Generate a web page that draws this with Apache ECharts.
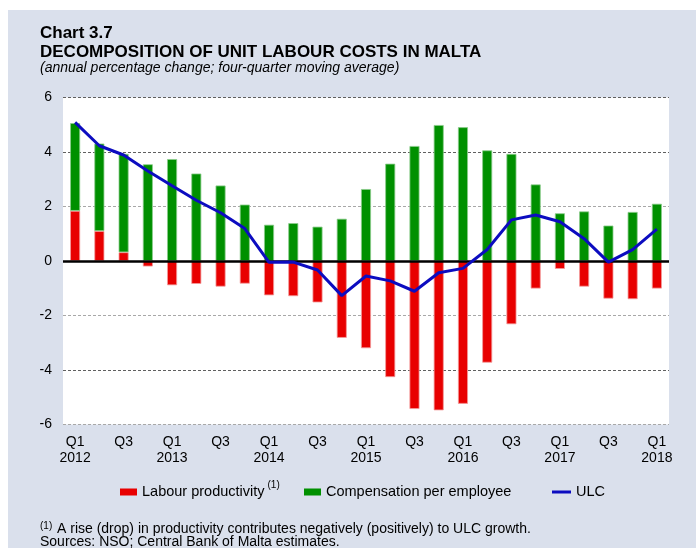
<!DOCTYPE html>
<html>
<head>
<meta charset="utf-8">
<script src="https://cdn.jsdelivr.net/npm/echarts@6/dist/echarts.min.js"></script>
<style>
  html, body { margin: 0; padding: 0; background: #fff; }
  #chart { width: 696px; height: 548px; }
</style>
</head>
<body>
<div id="chart"></div>
<script>
// quarters, 2012 Q1 .. 2018 Q1
var quarters = ['Q1\n2012', 'Q2', 'Q3', 'Q4',
  'Q1\n2013', 'Q2', 'Q3', 'Q4',
  'Q1\n2014', 'Q2', 'Q3', 'Q4',
  'Q1\n2015', 'Q2', 'Q3', 'Q4',
  'Q1\n2016', 'Q2', 'Q3', 'Q4',
  'Q1\n2017', 'Q2', 'Q3', 'Q4',
  'Q1\n2018'];
var productivity = [1.84, 1.10, 0.32, -0.20, -0.89, -0.84, -0.94, -0.83, -1.26, -1.29, -1.52, -2.82,
  -3.20, -4.26, -5.43, -5.48, -5.24, -3.73, -2.32, -1.01, -0.29, -0.94, -1.38, -1.40, -1.01];
var compensation = [3.22, 3.21, 3.61, 3.55, 3.74, 3.21, 2.77, 2.07, 1.33, 1.39, 1.26, 1.55,
  2.64, 3.57, 4.22, 4.99, 4.91, 4.06, 3.93, 2.81, 1.75, 1.82, 1.30, 1.80, 2.10];
var ulc = [5.09, 4.23, 3.89, 3.30, 2.76, 2.23, 1.77, 1.19, -0.05, -0.04, -0.33, -1.27,
  -0.55, -0.73, -1.11, -0.43, -0.27, 0.42, 1.51, 1.69, 1.44, 0.82, -0.04, 0.42, 1.17];

var font = 'Liberation Sans, Arial, sans-serif';
var chart = echarts.init(document.getElementById('chart'), null, {renderer: 'canvas'});

var option = {
  backgroundColor: '#fff',
  animation: false,
  textStyle: {fontFamily: font},
  graphic: [
    {type: 'rect', z: -10, silent: true, shape: {x: 8, y: 10, width: 688, height: 538}, style: {fill: '#dae0ec'}},
    {type: 'text', left: 40, top: 25, style: {text: 'Chart 3.7', font: 'bold 17px ' + font, fill: '#000'}},
    {type: 'text', left: 40, top: 44, style: {text: 'DECOMPOSITION OF UNIT LABOUR COSTS IN MALTA', font: 'bold 17px ' + font, fill: '#000'}},
    {type: 'text', left: 40, top: 61, style: {text: '(annual percentage change; four-quarter moving average)', font: 'italic 14px ' + font, fill: '#000'}},
    {type: 'text', left: 40, top: 521, style: {text: '(1)', font: '10px ' + font, fill: '#000'}},
    {type: 'text', left: 57, top: 522, style: {text: 'A rise (drop) in productivity contributes negatively (positively) to ULC growth.', font: '14px ' + font, fill: '#000'}},
    {type: 'text', left: 40, top: 535, style: {text: 'Sources: NSO; Central Bank of Malta estimates.', font: '14px ' + font, fill: '#000'}}
  ],
  grid: {
    left: 63, top: 97.5, width: 606, height: 327,
    show: true, backgroundColor: '#fff', borderWidth: 0
  },
  legend: [
    {
      data: ['Labour productivity'], left: 120, top: 480, padding: 0,
      icon: 'rect', itemWidth: 17, itemHeight: 7,
      itemStyle: {borderWidth: 0},
      formatter: function (name) { return '{n|' + name + '}{s|(1)}'; },
      textStyle: {
        color: '#000', fontSize: 14.5, fontFamily: font,
        rich: {
          n: {fontSize: 14.5, fontFamily: font, color: '#000', lineHeight: 16},
          s: {fontSize: 10, fontFamily: font, color: '#000', padding: [0, 0, 14, 3]}
        }
      }
    },
    {
      data: ['Compensation per employee'], left: 304, top: 484, padding: 0,
      icon: 'rect', itemWidth: 17, itemHeight: 7,
      itemStyle: {borderWidth: 0},
      textStyle: {color: '#000', fontSize: 14.5, fontFamily: font, lineHeight: 16}
    },
    {
      data: ['ULC'], left: 552, top: 484, padding: 0,
      icon: 'rect', itemWidth: 19, itemHeight: 3,
      itemStyle: {borderWidth: 0},
      textStyle: {color: '#000', fontSize: 14.5, fontFamily: font, lineHeight: 16}
    }
  ],
  xAxis: {
    type: 'category',
    data: quarters,
    axisLine: {show: false, onZero: false},
    axisTick: {show: false},
    axisLabel: {interval: 1, margin: 9, color: '#000', fontSize: 14, lineHeight: 16.5, fontFamily: font}
  },
  yAxis: {
    type: 'value',
    min: -6, max: 6, interval: 2,
    axisLine: {show: false},
    axisTick: {show: false},
    axisLabel: {margin: 11, color: '#000', fontSize: 14, fontFamily: font},
    splitLine: {
      lineStyle: {
        color: ['#a8a8a8', '#606060', '#a8a8a8', '#a8a8a8', '#a8a8a8', '#606060', '#606060'],
        type: [3, 2], width: 1
      }
    }
  },
  series: [
    {
      name: 'Labour productivity', type: 'bar', stack: 'ulc', barWidth: 10,
      data: productivity,
      itemStyle: {color: '#e80000', borderColor: '#f39a9a', borderWidth: 0.8}
    },
    {
      name: 'Compensation per employee', type: 'bar', stack: 'ulc', barWidth: 10,
      data: compensation,
      itemStyle: {color: '#009000', borderColor: '#8ccc8c', borderWidth: 0.8},
      markLine: {
        silent: true, symbol: 'none', label: {show: false},
        lineStyle: {color: '#000', width: 2.5, type: 'solid'},
        data: [{yAxis: 0}]
      }
    },
    {
      name: 'ULC', type: 'line', z: 6,
      data: ulc, showSymbol: false, symbol: 'none',
      lineStyle: {color: '#0c0cc0', width: 3},
      itemStyle: {color: '#0c0cc0'}
    }
  ]
};
chart.setOption(option);
</script>
</body>
</html>
